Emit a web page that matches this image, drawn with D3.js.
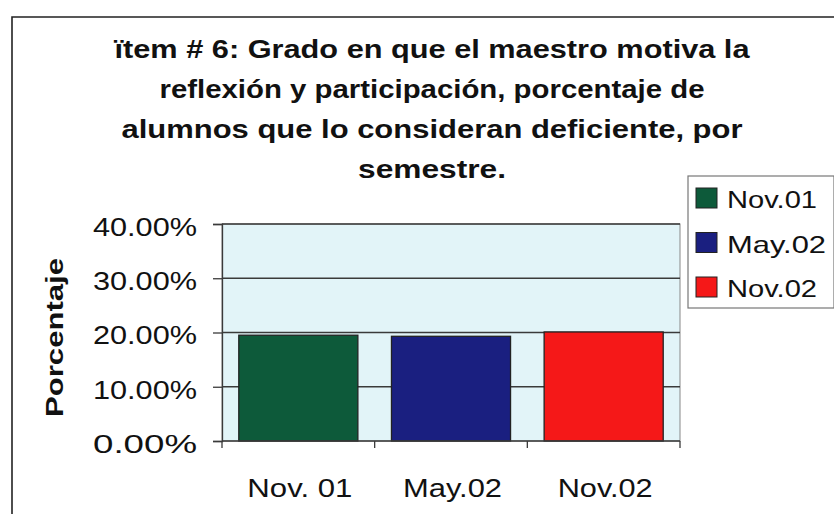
<!DOCTYPE html>
<html>
<head>
<meta charset="utf-8">
<script src="https://cdn.jsdelivr.net/npm/d3@7"></script>
<style>
  html, body { margin: 0; padding: 0; background: #fff; }
  svg { display: block; font-family: Arial, "Liberation Sans", sans-serif; }
</style>
</head>
<body>
<svg id="chart" width="834" height="514"></svg>
<script>
// data
const categories = ['Nov. 01', 'May.02', 'Nov.02'];
const seriesNames = ['Nov.01', 'May.02', 'Nov.02'];
const values = [0.195, 0.193, 0.201];
const yTicks = [0, 0.1, 0.2, 0.3, 0.4];
const titleLines = [
  'ïtem # 6: Grado en que el maestro motiva la',
  'reflexión y participación, porcentaje de',
  'alumnos que lo consideran deficiente, por',
  'semestre.'
];

const COLORS = ['#0d5a3a', '#1a1f80', '#f51818'];
const PLOT_BG = '#e2f4f8', GRID = '#3a3a3a', INK = '#111';

// the scanned fonts are wider than Arial, so text is fitted to measured widths
const TITLE_CX = 432;
const TITLE_W = [635, 545, 621, 148];
const XLAB_W = [105, 99, 95];
const LEG_W = [90, 99, 90];

const svg = d3.select('#chart');
const M = { left: 222, right: 680, top: 224, bottom: 441 };

// outer frame of the pasted chart (top + left edges visible in the scan)
svg.append('path').attr('d', 'M12,514 V17 H834')
  .attr('fill', 'none').attr('stroke', '#222').attr('stroke-width', 1.6);

// title
const tg = svg.append('g').attr('text-anchor', 'middle')
  .attr('font-weight', 700).attr('font-size', 26).attr('fill', INK);
titleLines.forEach((t, i) => {
  tg.append('text').attr('x', TITLE_CX).attr('y', 58 + i * 40)
    .attr('textLength', TITLE_W[i]).attr('lengthAdjust', 'spacingAndGlyphs').text(t);
});

const x = d3.scaleBand().domain(categories).range([M.left, M.right])
  .paddingInner(0.22).paddingOuter(0.11);
const y = d3.scaleLinear().domain([0, 0.4]).range([M.bottom, M.top]);

// plot area
svg.append('rect').attr('x', M.left).attr('y', M.top)
  .attr('width', M.right - M.left).attr('height', M.bottom - M.top)
  .attr('fill', PLOT_BG).attr('stroke', '#888').attr('stroke-width', 1);

// gridlines
svg.append('g').selectAll('line').data(yTicks.slice(1)).join('line')
  .attr('x1', M.left).attr('x2', M.right)
  .attr('y1', d => y(d)).attr('y2', d => y(d))
  .attr('stroke', GRID).attr('stroke-width', 1.3);

// bars
svg.append('g').selectAll('rect').data(values).join('rect')
  .attr('x', (d, i) => x(categories[i])).attr('width', x.bandwidth())
  .attr('y', d => y(d)).attr('height', d => y(0) - y(d))
  .attr('fill', (d, i) => COLORS[i]).attr('stroke', '#222').attr('stroke-width', 1.3);

// y axis
const yAxis = svg.append('g').attr('transform', `translate(${M.left},0)`)
  .call(d3.axisLeft(y).tickValues(yTicks).tickFormat(d3.format('.2%')).tickSize(9).tickPadding(16));
yAxis.select('.domain').attr('stroke', GRID).attr('stroke-width', 1.3);
yAxis.selectAll('.tick line').attr('stroke', GRID).attr('stroke-width', 1.3);
yAxis.selectAll('.tick text').attr('font-size', 25).attr('fill', INK)
  .attr('font-family', 'Arial, "Liberation Sans", sans-serif').attr('dy', '0.45em')
  .attr('textLength', 104).attr('lengthAdjust', 'spacingAndGlyphs');

// x axis: ticks sit between categories
const xAxisG = svg.append('g').attr('transform', `translate(0,${M.bottom})`);
xAxisG.append('line').attr('x1', M.left).attr('x2', M.right).attr('stroke', GRID).attr('stroke-width', 1.3);
const edge = i => M.left + i * (M.right - M.left) / categories.length;
xAxisG.selectAll('.xt').data(d3.range(categories.length + 1)).join('line').attr('class', 'xt')
  .attr('x1', edge).attr('x2', edge)
  .attr('y1', 0).attr('y2', 7).attr('stroke', GRID).attr('stroke-width', 1.3);
xAxisG.selectAll('.xl').data(categories).join('text').attr('class', 'xl')
  .attr('x', d => x(d) + x.bandwidth() / 2 + 1.5).attr('y', 56)
  .attr('text-anchor', 'middle').attr('font-size', 25).attr('fill', INK)
  .attr('textLength', (d, i) => XLAB_W[i]).attr('lengthAdjust', 'spacingAndGlyphs')
  .text(d => d);

// y axis title
svg.append('text').attr('transform', 'translate(63,337.5) rotate(-90)')
  .attr('text-anchor', 'middle').attr('font-weight', 700).attr('font-size', 23)
  .attr('textLength', 159).attr('lengthAdjust', 'spacingAndGlyphs')
  .attr('fill', INK).text('Porcentaje');

// legend
const lg = svg.append('g').attr('transform', 'translate(688,176)');
lg.append('rect').attr('width', 146).attr('height', 132)
  .attr('fill', '#fff').attr('stroke', '#777').attr('stroke-width', 1.2);
seriesNames.forEach((s, i) => {
  const base = 32 + i * 44.5;
  lg.append('rect').attr('x', 8).attr('y', base - 20).attr('width', 21).attr('height', 20)
    .attr('fill', COLORS[i]).attr('stroke', '#222').attr('stroke-width', 1);
  lg.append('text').attr('x', 39).attr('y', base)
    .attr('font-size', 24).attr('fill', INK)
    .attr('textLength', LEG_W[i]).attr('lengthAdjust', 'spacingAndGlyphs').text(s);
});
</script>
</body>
</html>
